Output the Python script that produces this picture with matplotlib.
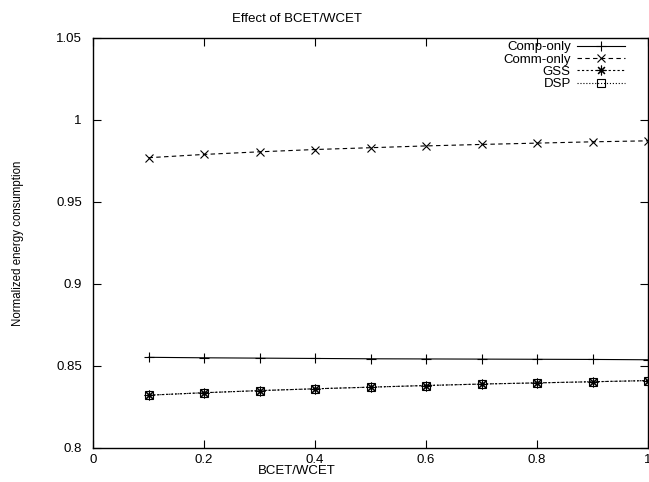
import matplotlib
matplotlib.use("Agg")
import matplotlib.pyplot as plt
from matplotlib.ticker import FormatStrFormatter

plt.rcParams['font.family'] = ['Liberation Sans', 'DejaVu Sans']

ratio = [0.1, 0.2, 0.3, 0.4, 0.5, 0.6, 0.7, 0.8, 0.9, 1.0]
comp_only = [0.8553, 0.8550, 0.8548, 0.8546, 0.8544, 0.8543, 0.8542, 0.8541, 0.8540, 0.8538]
comm_only = [0.9770, 0.9790, 0.9806, 0.9820, 0.9831, 0.9842, 0.9851, 0.9859, 0.9867, 0.9873]
gss = [0.8322, 0.8337, 0.8350, 0.8361, 0.8371, 0.8381, 0.8390, 0.8397, 0.8404, 0.8411]
dsp = [0.8322, 0.8337, 0.8350, 0.8361, 0.8371, 0.8381, 0.8390, 0.8397, 0.8404, 0.8411]

fig = plt.figure(figsize=(6.49, 4.82), dpi=100)
ax = fig.add_axes([93/649, 1-448/482, 555/649, 410/482])

lw = 0.8
ax.plot(ratio, comp_only, '-', color='black', lw=lw, marker='+', ms=7, mew=0.8, label='Comp-only')
ax.plot(ratio, comm_only, '--', color='black', lw=lw, marker='x', ms=6, mew=0.8,
        dashes=(4, 3), label='Comm-only')
ax.plot(ratio, gss, '--', color='black', lw=lw, marker=(8, 2, 0), ms=7, mew=0.8,
        dashes=(2, 2), label='GSS')
ax.plot(ratio, dsp, ':', color='black', lw=lw, marker='s', ms=6, mew=0.8,
        mfc='none', label='DSP')

ax.set_xlim(0, 1)
ax.set_ylim(0.8, 1.05)
ax.set_xticks([0, 0.2, 0.4, 0.6, 0.8, 1.0])
ax.set_yticks([0.8, 0.85, 0.9, 0.95, 1.0, 1.05])
ax.xaxis.set_major_formatter(FormatStrFormatter('%g'))
ax.yaxis.set_major_formatter(FormatStrFormatter('%g'))
ax.tick_params(direction='in', length=6, width=0.8, top=True, right=True,
               labelsize=9.5)
ax.tick_params(axis='x', pad=4)
ax.tick_params(axis='y', pad=8)
for s in ax.spines.values():
    s.set_linewidth(1.0)

fig.text(297/649, 1-19/482, 'Effect of BCET/WCET', ha='center', va='center', fontsize=9.5)
fig.text(297/649, 1-471/482, 'BCET/WCET', ha='center', va='center', fontsize=9.5)
fig.text(18/649, 1-243/482, 'Normalized energy consumption', rotation=90,
         ha='center', va='center', fontsize=8.3)

leg = ax.legend(loc='upper right', markerfirst=False, frameon=False, fontsize=9.5,
                handlelength=3.6, labelspacing=0.0, handletextpad=0.5,
                borderaxespad=0.0, bbox_to_anchor=(0.968, 1.005))

fig.savefig('out.png', dpi=100)
